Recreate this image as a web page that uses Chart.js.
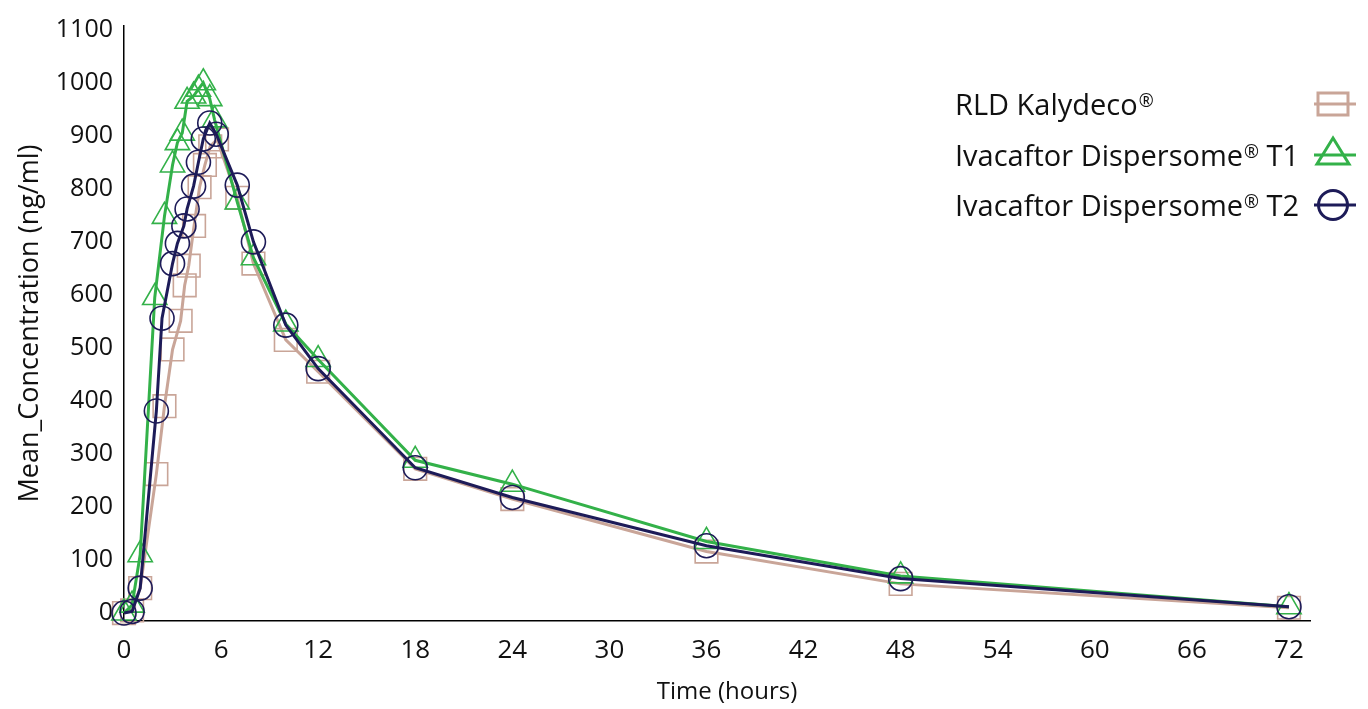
<!DOCTYPE html>
<html lang="en">
<head>
  <meta charset="UTF-8" />
  <title>Mean concentration vs time</title>
  <script src="https://cdn.jsdelivr.net/npm/chart.js"></script>
  <style>
    html, body { margin: 0; background: #fff; overflow: hidden; }
    #wrap { width: 1368px; height: 709px; position: relative; }
    #pkChart { display: block; }
  </style>
</head>
<body>
  <div id="wrap"><canvas id="pkChart" width="1368" height="709"></canvas></div>
  <script>
    // values
    const rldTimes = [0, 0.5, 1, 2, 2.5, 3, 3.5, 3.75, 4, 4.33, 4.67, 5, 5.33, 5.75, 7, 8, 10, 12, 18, 24, 36, 48, 72];
    const rldValues = [0, 5, 47, 262, 390, 497, 551, 618, 655, 730, 803, 845, 880, 893, 783, 659, 515, 455, 272, 215, 116, 55, 10];

    const t1Times = [0, 0.5, 1, 1.9, 2.5, 3, 3.3, 3.6, 3.9, 4.3, 4.6, 4.9, 5.3, 5.6, 7, 8, 10, 12, 18, 24, 36, 48, 72];
    const t1Values = [0, 15, 110, 595, 748, 845, 887, 905, 965, 975, 988, 1000, 970, 930, 775, 670, 545, 478, 288, 243, 135, 70, 12];

    const t2Times = [0, 0.5, 1, 2, 2.35, 3, 3.3, 3.7, 3.9, 4.3, 4.6, 4.9, 5.3, 5.7, 7, 8, 10, 12, 18, 24, 36, 48, 72];
    const t2Values = [0, 3, 47, 381, 556, 659, 697, 730, 762, 805, 850, 894, 924, 903, 807, 700, 543, 461, 274, 218, 127, 65, 12];

    const seriesNames = ["RLD Kalydeco®", "Ivacaftor Dispersome® T1", "Ivacaftor Dispersome® T2"];
    const xTicks = [0, 6, 12, 18, 24, 30, 36, 42, 48, 54, 60, 66, 72];
    const yTicks = [0, 100, 200, 300, 400, 500, 600, 700, 800, 900, 1000, 1100];

    const colors = ["#c9a598", "#33b149", "#1d1b58"];
    const shapes = ["rect", "triangle", "circle"];
    const radii = [16, 14, 12];
    const FONT = "'Open Sans'";

    const toPoints = (xs, ys) => xs.map((x, i) => ({ x, y: ys[i] }));

    function makeSet(i, xs, ys, order) {
      return {
        label: seriesNames[i],
        data: toPoints(xs, ys),
        borderColor: colors[i],
        borderWidth: 3,
        pointStyle: shapes[i],
        pointRadius: radii[i],
        pointBorderWidth: 1.6,
        pointBorderColor: colors[i],
        pointBackgroundColor: "rgba(0,0,0,0)",
        tension: 0,
        clip: false,
        order
      };
    }

    // legend (text left, marker right) and the x title, which sits a bit right of centre
    const extras = {
      id: "extras",
      afterDraw(chart) {
        const ctx = chart.ctx;
        const baselines = [115, 166, 216];
        ctx.save();
        ctx.fillStyle = "#111";
        ctx.textBaseline = "alphabetic";
        ctx.textAlign = "left";
        baselines.forEach((y, i) => {
          const parts = seriesNames[i].split("®");
          let x = 955;
          ctx.font = "29px " + FONT;
          ctx.fillText(parts[0], x, y);
          x += ctx.measureText(parts[0]).width + 1;
          ctx.font = "18px " + FONT;
          ctx.fillText("®", x, y - 8);
          x += ctx.measureText("®").width;
          ctx.font = "29px " + FONT;
          if (parts[1]) ctx.fillText(parts[1], x, y);

          const cy = y - 11;
          const cx = 1333;
          ctx.strokeStyle = colors[i];
          ctx.lineWidth = 3;
          ctx.beginPath();
          ctx.moveTo(1314, cy);
          ctx.lineTo(1356, cy);
          ctx.stroke();
          ctx.beginPath();
          if (shapes[i] === "rect") {
            ctx.rect(cx - 15, cy - 11, 30, 22);
          } else if (shapes[i] === "triangle") {
            ctx.moveTo(cx, cy - 17);
            ctx.lineTo(cx + 16, cy + 9);
            ctx.lineTo(cx - 16, cy + 9);
            ctx.closePath();
          } else {
            ctx.arc(cx, cy, 14.5, 0, Math.PI * 2);
          }
          ctx.stroke();
        });

        ctx.font = "24px " + FONT;
        ctx.textAlign = "center";
        ctx.textBaseline = "middle";
        ctx.fillText("Time (hours)", 727, 692);
        ctx.restore();
      }
    };

    new Chart(document.getElementById("pkChart"), {
      type: "line",
      data: {
        datasets: [
          makeSet(0, rldTimes, rldValues, 2),
          makeSet(1, t1Times, t1Values, 1),
          makeSet(2, t2Times, t2Values, 0)
        ]
      },
      options: {
        responsive: false,
        animation: false,
        layout: { padding: { left: 0, right: 58, top: 20, bottom: 0 } },
        plugins: { legend: { display: false }, tooltip: { enabled: false } },
        scales: {
          x: {
            type: "linear",
            min: 0,
            max: 73.3,
            afterBuildTicks: s => { s.ticks = xTicks.map(v => ({ value: v })); },
            afterFit: s => { s.height = 88; },
            grid: { display: false, drawTicks: false },
            border: { display: true, color: "#000", width: 1.5 },
            ticks: { color: "#111", padding: 14, font: { family: FONT, size: 26 }, maxRotation: 0, callback: v => String(v) }
          },
          y: {
            min: -15,
            max: 1107,
            afterBuildTicks: s => { s.ticks = yTicks.map(v => ({ value: v })); },
            afterFit: s => { s.width = 124; },
            grid: { display: false, drawTicks: false },
            border: { display: true, color: "#000", width: 1.5 },
            ticks: { color: "#111", padding: 11, font: { family: FONT, size: 25 }, callback: v => String(v) },
            title: {
              display: true,
              text: "Mean_Concentration (ng/ml)",
              color: "#111",
              font: { family: FONT, size: 27 },
              padding: { top: 14, bottom: 0 }
            }
          }
        }
      },
      plugins: [extras]
    });
  </script>
</body>
</html>
